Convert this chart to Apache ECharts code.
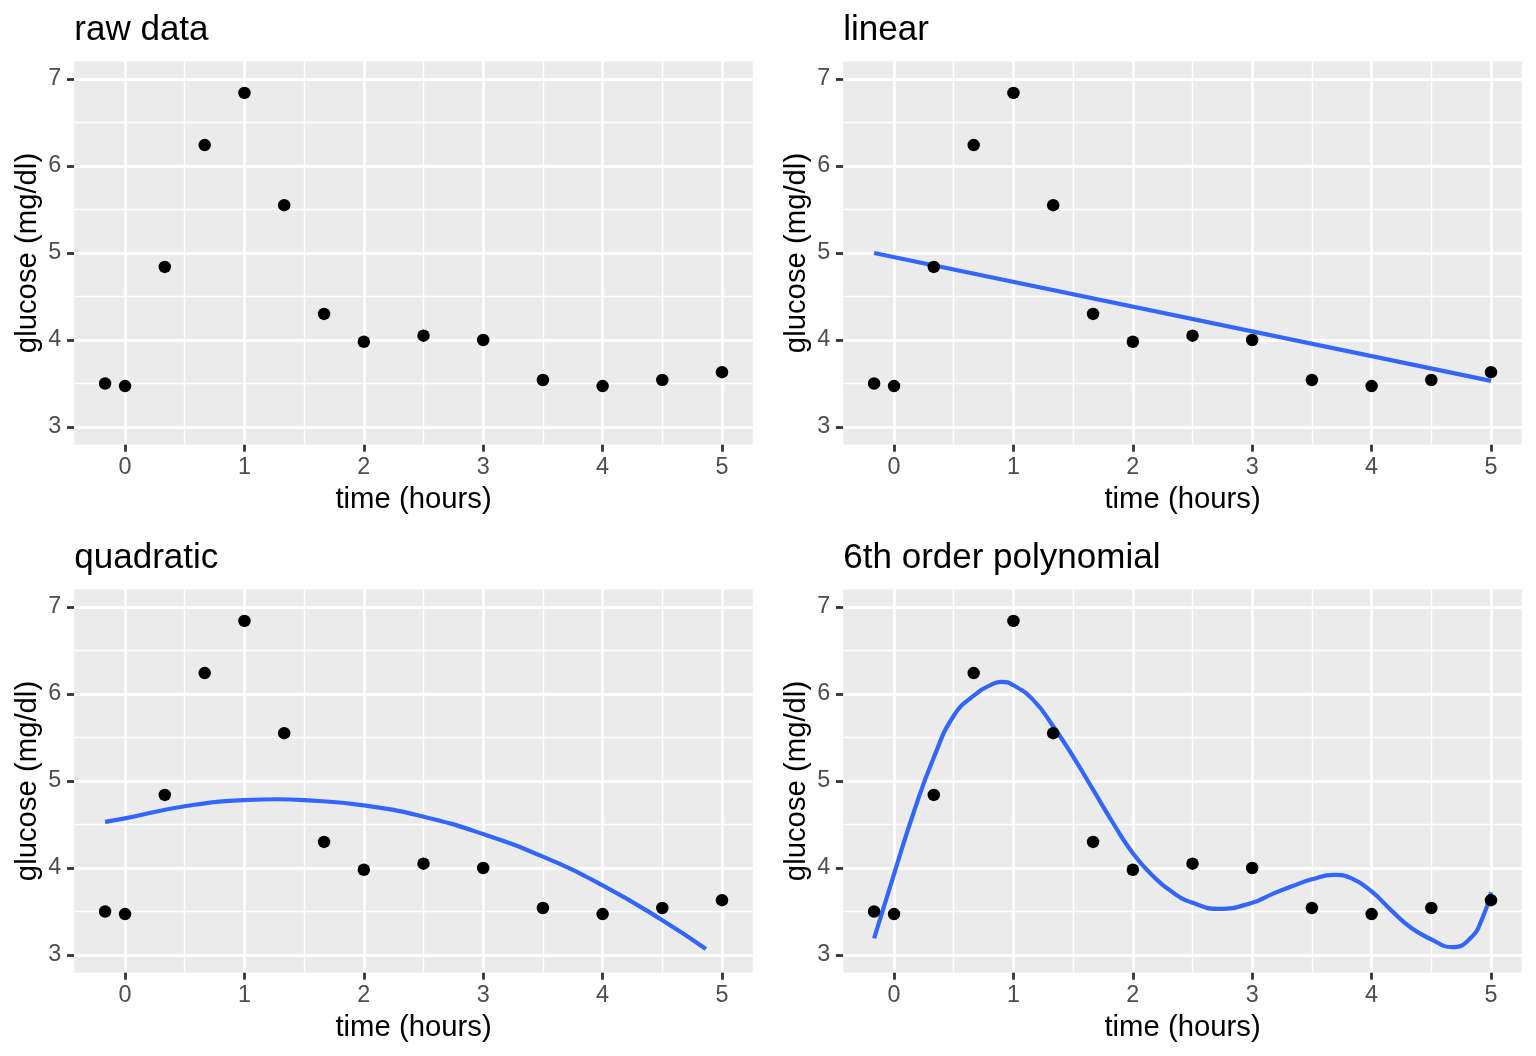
<!DOCTYPE html>
<html>
<head>
<meta charset="utf-8">
<script src="https://cdn.jsdelivr.net/npm/echarts@6/dist/echarts.min.js"></script>
<style>
html,body{margin:0;padding:0;background:#fff;}
#chart{width:1536px;height:1056px;}
</style>
</head>
<body>
<div id="chart"></div>
<script>
// ---- data ----
const timeHours = [-0.167, 0, 0.333, 0.667, 1, 1.333, 1.667, 2, 2.5, 3, 3.5, 4, 4.5, 5];
const glucose   = [3.50, 3.47, 4.84, 6.24, 6.84, 5.55, 4.30, 3.98, 4.05, 4.00, 3.54, 3.47, 3.54, 3.63];

const panelTitles = ['raw data', 'linear', 'quadratic', '6th order polynomial'];

const xTickLabels = [0, 1, 2, 3, 4, 5];
const yTickLabels = [3, 4, 5, 6, 7];
const xMinorBreaks = [0.5, 1.5, 2.5, 3.5, 4.5];
const yMinorBreaks = [3.5, 4.5, 5.5, 6.5];

// fitted curves
const linearFitX = [-0.167, 5];
const linearFitY = [5.00, 3.53];

const quadFitX = [-0.167, 0, 0.5, 1, 1.28, 1.5, 2, 2.5, 3, 3.5, 4, 4.5, 4.865];
const quadFitY = [4.53, 4.57, 4.71, 4.78, 4.79, 4.78, 4.72, 4.59, 4.39, 4.13, 3.80, 3.40, 3.07];

const poly6FitX = [-0.167, 0, 0.167, 0.333, 0.5, 0.667, 0.833, 0.9, 1.0, 1.167, 1.333, 1.5, 1.667, 1.833, 2.0, 2.167, 2.333, 2.5, 2.72, 3.0, 3.167, 3.333, 3.5, 3.685, 3.833, 4.0, 4.167, 4.333, 4.5, 4.677, 4.833, 4.93, 5.0];
const poly6FitY = [3.19, 3.93, 4.65, 5.27, 5.75, 5.98, 6.12, 6.14, 6.10, 5.93, 5.63, 5.28, 4.90, 4.52, 4.17, 3.91, 3.72, 3.60, 3.53, 3.60, 3.70, 3.79, 3.87, 3.92, 3.88, 3.73, 3.51, 3.31, 3.18, 3.09, 3.20, 3.43, 3.72];

// ---- layout / style ----
const FONT = '"Liberation Sans", Arial, Helvetica, sans-serif';
const X_MIN = -0.425, X_MAX = 5.258, Y_MIN = 2.8, Y_MAX = 7.2;
const grids = [
  {left: 74.3, top: 61.6, width: 678.5, height: 382.8},
  {left: 843.3, top: 61.6, width: 678.5, height: 382.8},
  {left: 74.3, top: 589.6, width: 678.5, height: 382.8},
  {left: 843.3, top: 589.6, width: 678.5, height: 382.8}
];
const fits = [null, [linearFitX, linearFitY], [quadFitX, quadFitY], [poly6FitX, poly6FitY]];

const zip = (xs, ys) => xs.map((x, i) => [x, ys[i]]);

const tickStyle = {show: true, length: 7.3, lineStyle: {color: '#333333', width: 2.8}};
const hiddenLine = {show: true, onZero: false, lineStyle: {color: 'rgba(0,0,0,0)', width: 0}};

const option = {
  animation: false,
  backgroundColor: '#ffffff',
  textStyle: {fontFamily: FONT},
  title: grids.map((g, i) => ({
    text: panelTitles[i], left: g.left, top: g.top - 48.5, padding: 0,
    textStyle: {fontSize: 35, fontWeight: 'normal', color: '#000', fontFamily: FONT}
  })),
  grid: grids.map(g => Object.assign({show: true, backgroundColor: '#EBEBEB', borderWidth: 0, containLabel: false}, g)),
  xAxis: grids.map((g, i) => ({
    type: 'value', gridIndex: i, min: X_MIN, max: X_MAX,
    name: 'time (hours)', nameLocation: 'middle', nameGap: 41,
    nameTextStyle: {fontSize: 29.3, color: '#000', fontFamily: FONT},
    axisLine: hiddenLine,
    axisTick: Object.assign({customValues: xTickLabels}, tickStyle),
    axisLabel: {show: true, customValues: xTickLabels, margin: 12, fontSize: 23.4, color: '#4D4D4D', fontFamily: FONT},
    splitLine: {show: false}
  })),
  yAxis: grids.map((g, i) => ({
    type: 'value', gridIndex: i, min: Y_MIN, max: Y_MAX,
    name: 'glucose (mg/dl)', nameLocation: 'middle', nameGap: 32, nameRotate: 90,
    nameTextStyle: {fontSize: 29.3, color: '#000', fontFamily: FONT},
    axisLine: hiddenLine,
    axisTick: Object.assign({customValues: yTickLabels}, tickStyle),
    axisLabel: {show: true, customValues: yTickLabels, margin: 13, fontSize: 23.4, color: '#4D4D4D', fontFamily: FONT},
    splitLine: {show: false}
  })),
  series: []
};

grids.forEach((g, i) => {
  const minor = {color: '#FFFFFF', width: 1.4, type: 'solid'};
  const major = {color: '#FFFFFF', width: 2.8, type: 'solid'};
  option.series.push({
    type: 'scatter', xAxisIndex: i, yAxisIndex: i, data: [], silent: true, z: 1,
    markLine: {
      silent: true, z: 1, animation: false, symbol: ['none', 'none'], label: {show: false},
      emphasis: {disabled: true},
      data: [
        ...xMinorBreaks.map(v => ({xAxis: v, lineStyle: minor})),
        ...yMinorBreaks.map(v => ({yAxis: v, lineStyle: minor})),
        ...xTickLabels.map(v => ({xAxis: v, lineStyle: major})),
        ...yTickLabels.map(v => ({yAxis: v, lineStyle: major}))
      ]
    }
  });
  option.series.push({
    type: 'scatter', xAxisIndex: i, yAxisIndex: i, z: 4,
    data: zip(timeHours, glucose), symbol: 'circle', symbolSize: 12.5,
    itemStyle: {color: '#000000', opacity: 1}, silent: true
  });
  if (fits[i]) {
    option.series.push({
      type: 'line', xAxisIndex: i, yAxisIndex: i, z: 3,
      data: zip(fits[i][0], fits[i][1]), showSymbol: false, symbol: 'none',
      smooth: i === 1 ? false : 0.5,
      lineStyle: {color: '#3366FF', width: 4.2}, silent: true
    });
  }
});

const chart = echarts.init(document.getElementById('chart'), null, {renderer: 'canvas'});
chart.setOption(option);
</script>
</body>
</html>
